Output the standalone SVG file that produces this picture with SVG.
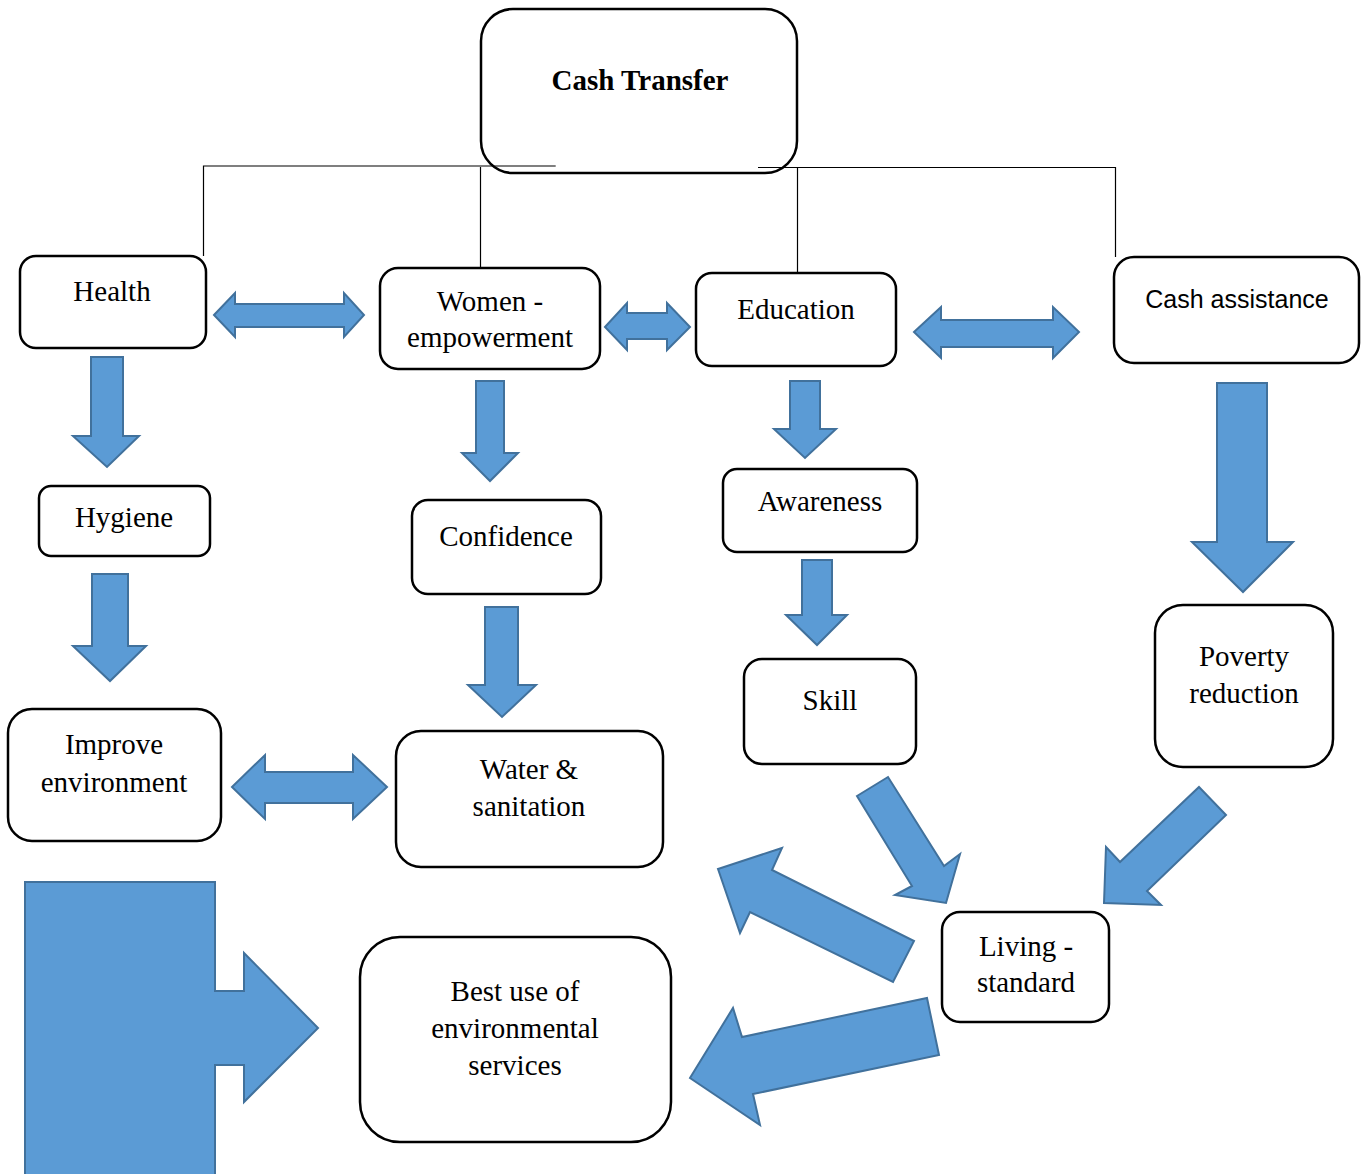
<svg xmlns="http://www.w3.org/2000/svg" width="1367" height="1174" viewBox="0 0 1367 1174">
<style>
.box{fill:#fff;stroke:#000;stroke-width:2.5}
.t{font-family:"Liberation Serif","Times New Roman",serif;font-size:29px;fill:#000;text-anchor:middle}
.tb{font-weight:bold}
.ts{font-family:"Liberation Sans",Arial,sans-serif;font-size:25px}
.arr{fill:#5B9BD5;stroke:#41719C;stroke-width:2;stroke-linejoin:miter}
.ln{fill:none;stroke:#000;stroke-width:1.2}
</style>
<rect width="1367" height="1174" fill="#fff"/>
<g id="n-cash-transfer"><rect class="box" x="481" y="9" width="316" height="164" rx="32"/><text class="t tb" x="640" y="90">Cash Transfer</text></g>
<g id="n-health"><rect class="box" x="20" y="256" width="186" height="92" rx="16"/><text class="t" x="112" y="301">Health</text></g>
<g id="n-women"><rect class="box" x="380" y="268" width="220" height="101" rx="18"/><text class="t" x="490" y="311">Women -</text><text class="t" x="490" y="347">empowerment</text></g>
<g id="n-education"><rect class="box" x="696" y="273" width="200" height="93" rx="16"/><text class="t" x="796" y="319">Education</text></g>
<g id="n-cash-assistance"><rect class="box" x="1114" y="257" width="245" height="106" rx="20"/><text class="t ts" x="1237" y="308">Cash assistance</text></g>
<g id="n-hygiene"><rect class="box" x="39" y="486" width="171" height="70" rx="12"/><text class="t" x="124" y="527">Hygiene</text></g>
<g id="n-confidence"><rect class="box" x="412" y="500" width="189" height="94" rx="16"/><text class="t" x="506" y="546">Confidence</text></g>
<g id="n-awareness"><rect class="box" x="723" y="469" width="194" height="83" rx="14"/><text class="t" x="820" y="511">Awareness</text></g>
<g id="n-skill"><rect class="box" x="744" y="659" width="172" height="105" rx="18"/><text class="t" x="830" y="710">Skill</text></g>
<g id="n-poverty"><rect class="box" x="1155" y="605" width="178" height="162" rx="28"/><text class="t" x="1244" y="666">Poverty</text><text class="t" x="1244" y="703">reduction</text></g>
<g id="n-improve"><rect class="box" x="8" y="709" width="213" height="132" rx="24"/><text class="t" x="114" y="754">Improve</text><text class="t" x="114" y="792">environment</text></g>
<g id="n-water"><rect class="box" x="396" y="731" width="267" height="136" rx="25"/><text class="t" x="529" y="779">Water &amp;</text><text class="t" x="529" y="816">sanitation</text></g>
<g id="n-living"><rect class="box" x="942" y="912" width="167" height="110" rx="18"/><text class="t" x="1026" y="956">Living -</text><text class="t" x="1026" y="992">standard</text></g>
<g id="n-bestuse"><rect class="box" x="360" y="937" width="311" height="205" rx="40"/><text class="t" x="515" y="1001">Best use of</text><text class="t" x="515" y="1038">environmental</text><text class="t" x="515" y="1075">services</text></g>
<g id="connectors">
<polyline class="ln" points="555.7,166 203.5,166 203.5,256"/>
<line class="ln" x1="480.5" y1="167" x2="480.5" y2="268"/>
<polyline class="ln" points="758,167.5 1115.5,167.5 1115.5,257"/>
<line class="ln" x1="797.5" y1="167.5" x2="797.5" y2="273"/>
<polygon class="arr" points="91,357 123,357 123,436 139,436 107,467 73,436 91,436"/>
<polygon class="arr" points="92,574 128,574 128,646 146,646 110,681 73,646 92,646"/>
<polygon class="arr" points="476,381 504,381 504,453 518,453 490,481 462,453 476,453"/>
<polygon class="arr" points="485,607 518,607 518,685 536,685 502,717 468,685 485,685"/>
<polygon class="arr" points="790,381 820,381 820,429 836,429 805,458 774,429 790,429"/>
<polygon class="arr" points="802,560 832,560 832,615 847,615 817,645 786,615 802,615"/>
<polygon class="arr" points="1217,383 1267,383 1267,542 1293,542 1243,592 1192,542 1217,542"/>
<polygon class="arr" points="214,315 235,293 235,304 344,304 344,293 364,315 344,337 344,327 235,327 235,337"/>
<polygon class="arr" points="605,327 627,303 627,313 667,313 667,303 690,327 667,350 667,339 627,339 627,350"/>
<polygon class="arr" points="914,332 941,307 941,320 1053,320 1053,307 1079,332 1053,358 1053,347 941,347 941,358"/>
<polygon class="arr" points="232,787 265,755 265,772 353,772 353,755 387,787 353,819 353,803 265,803 265,819"/>
<polygon class="arr" points="857,796 888,777 944,866 960,854 946,903 895,895 912,886"/>
<polygon class="arr" points="1199,787 1226,815 1147,891 1161,905 1104,903 1106,847 1120,862"/>
<polygon class="arr" points="718,869 782,848 772,870 914,941 893,982 750,912 740,933"/>
<polygon class="arr" points="927,998 939,1055 753,1094 760,1125 690,1078 733,1008 742,1037"/>
<polygon class="arr" points="25,882 215,882 215,991 244,991 244,953 318,1028 244,1102 244,1065 215,1065 215,1178 25,1178"/>
</g>
</svg>
